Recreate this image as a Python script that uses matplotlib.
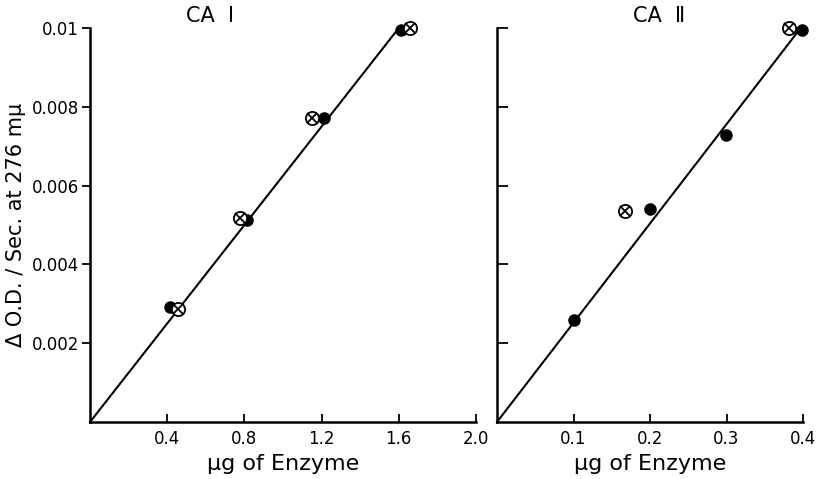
import numpy as np
import matplotlib.pyplot as plt

# CA I panel
ca1_filled_x = [0.415, 0.816, 1.21, 1.61]
ca1_filled_y = [0.00293, 0.00512, 0.00772, 0.00996]
ca1_cross_x = [0.457, 0.779, 1.148, 1.66]
ca1_cross_y = [0.00288, 0.00517, 0.00772, 0.00999]
ca1_line_x = [0.0, 1.6]
ca1_line_y = [0.0, 0.01]

# CA II panel
ca2_filled_x = [0.100, 0.200, 0.299, 0.399]
ca2_filled_y = [0.0026, 0.0054, 0.00729, 0.00994]
ca2_cross_x = [0.167, 0.382]
ca2_cross_y = [0.00535, 0.00999]
ca2_line_x = [0.0, 0.393]
ca2_line_y = [0.0, 0.0099]

yticks = [0.002, 0.004, 0.006, 0.008, 0.01]
ytick_labels = ['0.002', '0.004', '0.006', '0.008', '0.01']
ca1_xticks = [0.4, 0.8, 1.2, 1.6, 2.0]
ca1_xtick_labels = ['0.4', '0.8', '1.2', '1.6', '2.0']
ca2_xticks = [0.1, 0.2, 0.3, 0.4]
ca2_xtick_labels = ['0.1', '0.2', '0.3', '0.4']

plt.rcParams['font.family'] = ['DejaVu Sans']

fig = plt.figure(figsize=(8.19, 4.79), dpi=100)
ax1 = fig.add_axes([90/819, 57/479, 386/819, 394/479])
ax2 = fig.add_axes([497/819, 57/479, 306/819, 394/479])


def cross_circles(ax, xs, ys):
    ax.plot(xs, ys, 'o', ms=9.5, mfc='white', mec='black', mew=1.3, zorder=4)
    ax.plot(xs, ys, 'x', ms=6.5, color='black', mew=1.3, zorder=5)


for ax, lx, ly, fx, fy, cx, cy in [
        (ax1, ca1_line_x, ca1_line_y, ca1_filled_x, ca1_filled_y, ca1_cross_x, ca1_cross_y),
        (ax2, ca2_line_x, ca2_line_y, ca2_filled_x, ca2_filled_y, ca2_cross_x, ca2_cross_y)]:
    ax.plot(lx, ly, color='black', lw=1.5, zorder=2)
    ax.plot(fx, fy, 'o', ms=8, color='black', zorder=3)
    cross_circles(ax, cx, cy)
    ax.set_ylim(0, 0.01)
    ax.set_yticks(yticks)
    for side in ['top', 'right']:
        ax.spines[side].set_visible(False)
    for side in ['left', 'bottom']:
        ax.spines[side].set_linewidth(1.8)
    ax.set_xlabel('\u03bcg of Enzyme', fontsize=16, labelpad=4)

ax1.set_xlim(0, 2.0)
ax1.set_xticks(ca1_xticks)
ax1.set_xticklabels(ca1_xtick_labels, fontsize=12)
ax1.set_yticklabels(ytick_labels, fontsize=12)
ax1.tick_params(axis='y', direction='out', length=6, width=1.3, pad=2)
ax1.tick_params(axis='x', direction='in', length=6, width=1.3, pad=6)
ax1.set_ylabel('\u0394 O.D. / Sec. at 276 m\u03bc', fontsize=15, labelpad=4)
ax1.text(0.31, 1.03, 'CA  \u2160', transform=ax1.transAxes, ha='center',
         va='center', fontsize=15)

ax2.set_xlim(0, 0.4)
ax2.set_xticks(ca2_xticks)
ax2.set_xticklabels(ca2_xtick_labels, fontsize=12)
ax2.set_yticklabels([])
ax2.tick_params(axis='y', direction='in', length=8, width=1.3)
ax2.tick_params(axis='x', direction='in', length=6, width=1.3, pad=6)
ax2.text(0.53, 1.03, 'CA  \u2161', transform=ax2.transAxes, ha='center',
         va='center', fontsize=15)

for ax in (ax1, ax2):
    for a in ax.lines:
        a.set_clip_on(False)

fig.savefig('out.png', dpi=100)
